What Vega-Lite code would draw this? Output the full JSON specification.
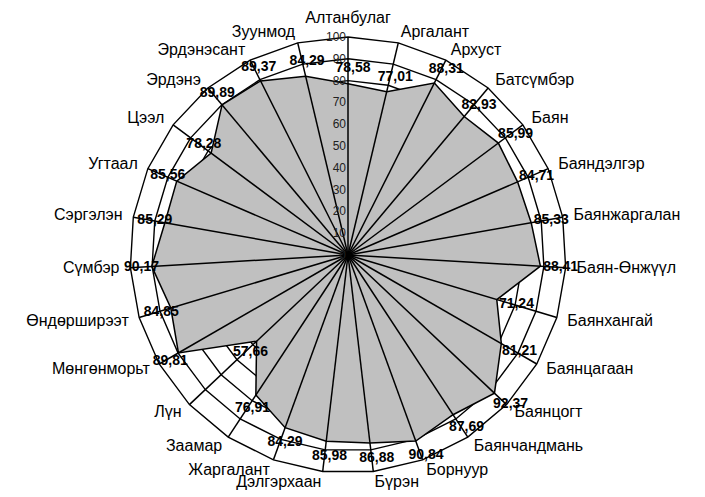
{
  "$schema": "https://vega.github.io/schema/vega-lite/v6.json",
  "autosize": "none",
  "width": 436,
  "height": 436,
  "padding": {"left": 130, "top": 37, "right": 139, "bottom": 24},
  "background": "white",
  "config": {"view": {"stroke": null}, "font": "Liberation Sans"},
  "datasets": {
    "cats": [
      {"name": "Алтанбулаг", "value": 78.58},
      {"name": "Аргалант", "value": 77.01},
      {"name": "Архуст", "value": 88.31},
      {"name": "Батсүмбэр", "value": 82.93},
      {"name": "Баян", "value": 85.99},
      {"name": "Баяндэлгэр", "value": 84.71},
      {"name": "Баянжаргалан", "value": 85.33},
      {"name": "Баян-Өнжүүл", "value": 88.41},
      {"name": "Баянхангай", "value": 71.24},
      {"name": "Баянцагаан", "value": 81.21},
      {"name": "Баянцогт", "value": 92.37},
      {"name": "Баянчандмань", "value": 87.69},
      {"name": "Борнуур", "value": 90.84},
      {"name": "Бүрэн", "value": 86.88},
      {"name": "Дэлгэрхаан", "value": 85.98},
      {"name": "Жаргалант", "value": 84.29},
      {"name": "Заамар", "value": 76.91},
      {"name": "Лүн", "value": 57.66},
      {"name": "Мөнгөнморьт", "value": 89.81},
      {"name": "Өндөрширээт", "value": 84.85},
      {"name": "Сүмбэр", "value": 90.17},
      {"name": "Сэргэлэн", "value": 85.29},
      {"name": "Угтаал", "value": 85.56},
      {"name": "Цээл", "value": 78.28},
      {"name": "Эрдэнэ", "value": 89.89},
      {"name": "Эрдэнэсант", "value": 89.37},
      {"name": "Зуунмод", "value": 84.29}
    ],
    "ticks": [
      {"v": 0}, {"v": 10}, {"v": 20}, {"v": 30}, {"v": 40}, {"v": 50},
      {"v": 60}, {"v": 70}, {"v": 80}, {"v": 90}, {"v": 100}
    ]
  },
  "encoding": {
    "x": {"field": "px", "type": "quantitative", "scale": {"domain": [-100, 100], "nice": false, "zero": false}, "axis": null},
    "y": {"field": "py", "type": "quantitative", "scale": {"domain": [-100, 100], "nice": false, "zero": false}, "axis": null}
  },
  "layer": [
    {
      "data": {"name": "cats"},
      "transform": [
        {"window": [{"op": "row_number", "as": "idx"}]},
        {"calculate": "(datum.idx - 1) * 2 * PI / 27", "as": "ang"},
        {"calculate": "[10,20,30,40,50,60,70,80,90,100]", "as": "lv"},
        {"flatten": ["lv"]},
        {"calculate": "datum.lv * sin(datum.ang)", "as": "px"},
        {"calculate": "datum.lv * cos(datum.ang)", "as": "py"}
      ],
      "mark": {"type": "line", "interpolate": "linear-closed", "stroke": "black", "strokeWidth": 1.4},
      "encoding": {
        "detail": {"field": "lv", "type": "nominal"},
        "order": {"field": "idx", "type": "quantitative"}
      }
    },
    {
      "data": {"name": "cats"},
      "transform": [
        {"window": [{"op": "row_number", "as": "idx"}]},
        {"calculate": "(datum.idx - 1) * 2 * PI / 27", "as": "ang"},
        {"calculate": "datum.value * sin(datum.ang)", "as": "px"},
        {"calculate": "datum.value * cos(datum.ang)", "as": "py"}
      ],
      "mark": {"type": "line", "interpolate": "linear-closed", "fill": "#c0c0c0", "stroke": "black", "strokeWidth": 1.5},
      "encoding": {
        "order": {"field": "idx", "type": "quantitative"}
      }
    },
    {
      "data": {"name": "cats"},
      "transform": [
        {"window": [{"op": "row_number", "as": "idx"}]},
        {"calculate": "(datum.idx - 1) * 2 * PI / 27", "as": "ang"},
        {"calculate": "100 * sin(datum.ang)", "as": "px"},
        {"calculate": "100 * cos(datum.ang)", "as": "py"}
      ],
      "mark": {"type": "rule", "stroke": "black", "strokeWidth": 1.5},
      "encoding": {
        "x2": {"datum": 0},
        "y2": {"datum": 0}
      }
    },
    {
      "data": {"name": "ticks"},
      "transform": [
        {"calculate": "0", "as": "px"},
        {"calculate": "datum.v", "as": "py"}
      ],
      "mark": {"type": "text", "align": "right", "baseline": "middle", "dx": -2, "fontSize": 12, "fill": "#222222"},
      "encoding": {"text": {"field": "v", "type": "quantitative"}}
    },
    {
      "data": {"name": "cats"},
      "transform": [
        {"window": [{"op": "row_number", "as": "idx"}]},
        {"calculate": "(datum.idx - 1) * 2 * PI / 27", "as": "ang"},
        {"calculate": "sin(datum.ang)", "as": "sx"},
        {"calculate": "105 * sin(datum.ang)", "as": "px"},
        {"calculate": "105 * cos(datum.ang)", "as": "py"}
      ],
      "mark": {
        "type": "text",
        "fontSize": 16,
        "fill": "black",
        "align": {"expr": "datum.sx > 0.01 ? 'left' : (datum.sx < -0.01 ? 'right' : 'center')"},
        "baseline": {"expr": "abs(datum.sx) < 0.01 ? 'bottom' : 'middle'"}
      },
      "encoding": {"text": {"field": "name", "type": "nominal"}}
    },
    {
      "data": {"name": "cats"},
      "transform": [
        {"window": [{"op": "row_number", "as": "idx"}]},
        {"calculate": "(datum.idx - 1) * 2 * PI / 27", "as": "ang"},
        {"calculate": "(datum.value + 7) * sin(datum.ang)", "as": "px"},
        {"calculate": "(datum.value + 7) * cos(datum.ang)", "as": "py"},
        {"calculate": "replace(format(datum.value, '.2f'), '.', ',')", "as": "lbl"}
      ],
      "mark": {"type": "text", "fontSize": 14, "fontWeight": "bold", "fill": "black", "align": "center", "baseline": "middle", "dx": 5},
      "encoding": {"text": {"field": "lbl", "type": "nominal"}}
    }
  ]
}
